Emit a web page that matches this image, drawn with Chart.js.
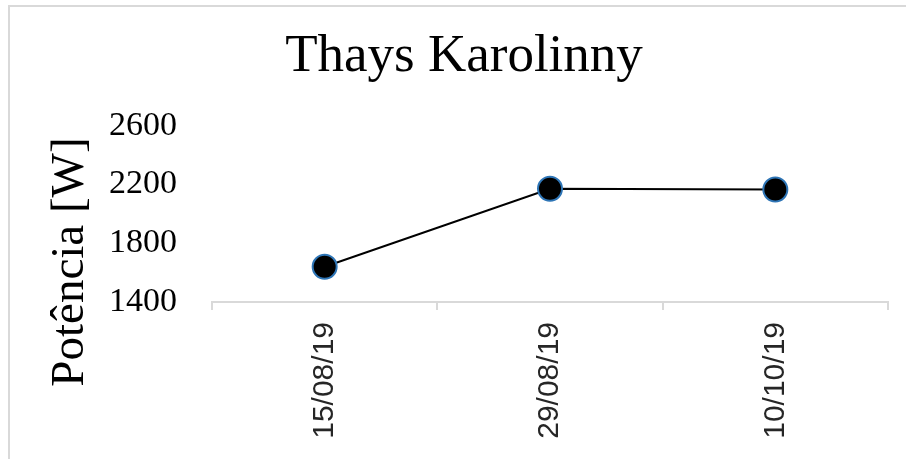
<!DOCTYPE html>
<html>
<head>
<meta charset="utf-8">
<script src="https://cdn.jsdelivr.net/npm/chart.js@4"></script>
<style>
  html, body { margin: 0; padding: 0; background: #fff; overflow: hidden; }
  #frame {
    position: absolute; left: 8px; top: 5px; width: 1000px; height: 600px;
    border-top: 2px solid #d9d9d9; border-left: 2px solid #d9d9d9;
  }
  #wrap { position: absolute; left: 0; top: 0; width: 906px; height: 459px; }
</style>
</head>
<body>
<div id="frame"></div>
<div id="wrap"><canvas id="powerChart"></canvas></div>
<script>
// data
const dates  = ['15/08/19', '29/08/19', '10/10/19'];
const power  = [1640, 2170, 2165];
const yTicks = [1400, 1800, 2200, 2600];

const TITLE   = 'Thays Karolinny';
const Y_TITLE = 'Potência [W]';
const SERIF   = '"Liberation Serif", "Times New Roman", serif';
const SANS    = '"Liberation Sans", Arial, sans-serif';
const AXIS_GREY = '#d9d9d9';

// y axis title sits lower than the plot centre, so draw it by hand
const yTitlePlugin = {
  id: 'yTitle',
  afterDraw(chart) {
    const ctx = chart.ctx;
    ctx.save();
    ctx.translate(71, 262);
    ctx.rotate(-Math.PI / 2);
    ctx.font = `47px ${SERIF}`;
    ctx.fillStyle = '#000';
    ctx.textAlign = 'center';
    ctx.textBaseline = 'middle';
    ctx.fillText(Y_TITLE, 0, 0);
    ctx.restore();
  }
};

new Chart(document.getElementById('powerChart'), {
  type: 'line',
  data: {
    labels: dates,
    datasets: [{
      data: power,
      borderColor: '#000',
      borderWidth: 2,
      backgroundColor: '#000',
      pointBackgroundColor: '#000',
      pointBorderColor: '#2e75b6',
      pointBorderWidth: 2,
      pointRadius: 12,
      tension: 0,
    }]
  },
  options: {
    responsive: true,
    maintainAspectRatio: false,
    animation: false,
    layout: { padding: { left: 40, right: 18, top: 0, bottom: 0 } },
    plugins: {
      legend: { display: false },
      tooltip: { enabled: false },
      title: {
        display: true,
        text: TITLE,
        color: '#000',
        font: { family: SERIF, size: 53, weight: 'normal', lineHeight: 1.2 },
        padding: { top: 25, bottom: 37 },
      }
    },
    scales: {
      x: {
        offset: true,
        grid: {
          offset: true,
          drawOnChartArea: false,
          drawTicks: true,
          tickLength: 8,
          color: AXIS_GREY,
          lineWidth: 2,
        },
        border: { display: true, color: AXIS_GREY, width: 2 },
        ticks: {
          color: '#262626',
          font: { family: SANS, size: 30 },
          minRotation: 90,
          maxRotation: 90,
          padding: 12,
        },
        afterFit(scale) { scale.height = 157; }
      },
      y: {
        min: yTicks[0],
        max: yTicks[yTicks.length - 1],
        grid: { display: false, drawTicks: false },
        border: { display: false },
        ticks: {
          stepSize: yTicks[1] - yTicks[0],
          color: '#000',
          font: { family: SERIF, size: 34 },
          padding: 35,
          callback: v => String(v),
        },
        afterFit(scale) { scale.width = 172; }
      }
    }
  },
  plugins: [yTitlePlugin]
});
</script>
</body>
</html>
